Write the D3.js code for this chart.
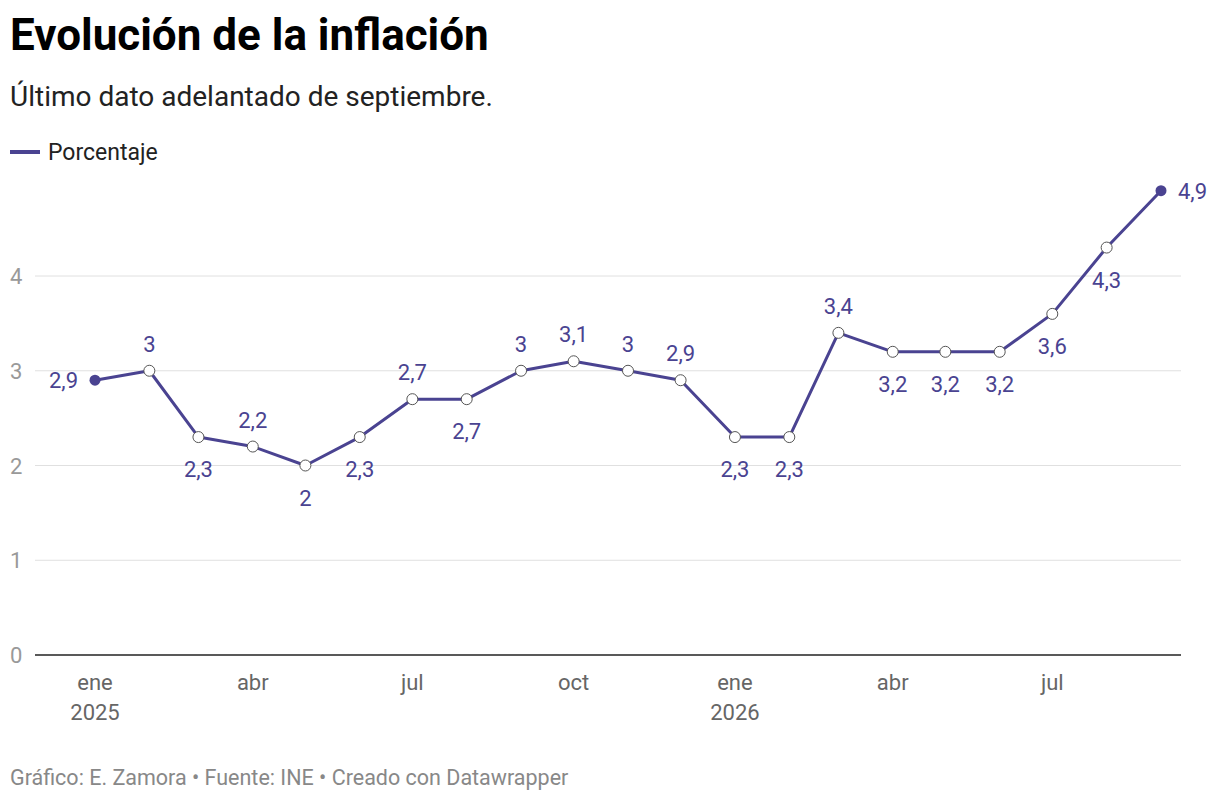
<!DOCTYPE html>
<html><head><meta charset="utf-8">
<script src="https://cdn.jsdelivr.net/npm/d3@7"></script>
<style>body{margin:0;background:#fff;font-family:Roboto,sans-serif}</style>
</head><body><svg id="c" width="1220" height="802"></svg>
<script>
const months=["2025-01","2025-02","2025-03","2025-04","2025-05","2025-06","2025-07","2025-08","2025-09","2025-10","2025-11","2025-12","2026-01","2026-02","2026-03","2026-04","2026-05","2026-06","2026-07","2026-08","2026-09"];
const values=[2.9,3,2.3,2.2,2,2.3,2.7,2.7,3,3.1,3,2.9,2.3,2.3,3.4,3.2,3.2,3.2,3.6,4.3,4.9];
const labelPos=["left","above","below","above","below","below","above","below","above","above","above","above","below","below","above","below","below","below","below","below","right"];
const yTicks=[0,1,2,3,4];
const xTicks=[["2025-01","ene","2025"],["2025-04","abr",""],["2025-07","jul",""],["2025-10","oct",""],["2026-01","ene","2026"],["2026-04","abr",""],["2026-07","jul",""]];
const color="#4a4391";
const svg=d3.select("#c");
const parse=d3.timeParse("%Y-%m");
const x=d3.scaleTime().domain([parse(months[0]),parse(months[months.length-1])]).range([95,1161]);
const y=d3.scaleLinear().domain([0,4]).range([655,276]);
svg.append("text").attr("x",10).attr("y",50).attr("font-size",44).attr("font-weight",700).attr("fill","#000").text("Evolución de la inflación");
svg.append("text").attr("x",10).attr("y",106).attr("font-size",28).attr("fill","#222").text("Último dato adelantado de septiembre.");
svg.append("line").attr("x1",10).attr("x2",40).attr("y1",152).attr("y2",152).attr("stroke",color).attr("stroke-width",4);
svg.append("text").attr("x",48).attr("y",160).attr("font-size",23).attr("fill","#222").text("Porcentaje");
yTicks.forEach(t=>{
  if(t>0) svg.append("line").attr("x1",35).attr("x2",1181).attr("y1",y(t)).attr("y2",y(t)).attr("stroke","#e0e0e0");
  svg.append("text").attr("x",10).attr("y",y(t)+8).attr("font-size",22).attr("fill","#999").text(t);
});
svg.append("line").attr("x1",35).attr("x2",1181).attr("y1",y(0)).attr("y2",y(0)).attr("stroke","#222").attr("stroke-width",1.5);
xTicks.forEach(([m,a,b])=>{
  const xx=x(parse(m));
  svg.append("text").attr("x",xx).attr("y",690).attr("text-anchor","middle").attr("font-size",22).attr("fill","#666").text(a);
  if(b) svg.append("text").attr("x",xx).attr("y",720).attr("text-anchor","middle").attr("font-size",22).attr("fill","#666").text(b);
});
const data=months.map((m,i)=>({d:parse(m),v:values[i],p:labelPos[i]}));
svg.append("path").datum(data).attr("fill","none").attr("stroke",color).attr("stroke-width",3).attr("stroke-linejoin","round")
 .attr("d",d3.line().x(d=>x(d.d)).y(d=>y(d.v)));
data.forEach((d,i)=>{
  const end=i===0||i===data.length-1;
  svg.append("circle").attr("cx",x(d.d)).attr("cy",y(d.v)).attr("r",5.5)
    .attr("fill",end?color:"#fff").attr("stroke",end?color:"#555").attr("stroke-width",end?0:1);
  const lbl=String(d.v).replace(".",",");
  let tx=x(d.d),ty=y(d.v),anc="middle";
  if(d.p==="above")ty-=19;else if(d.p==="below")ty+=40;else if(d.p==="left"){tx-=17;anc="end";ty+=8;}else{tx+=17;anc="start";ty+=8;}
  svg.append("text").attr("x",tx).attr("y",ty).attr("text-anchor",anc).attr("font-size",22).attr("fill",color).text(lbl);
});
svg.append("text").attr("x",10).attr("y",785).attr("font-size",21.5).attr("fill","#888").text("Gráfico: E. Zamora • Fuente: INE • Creado con Datawrapper");
</script></body></html>
